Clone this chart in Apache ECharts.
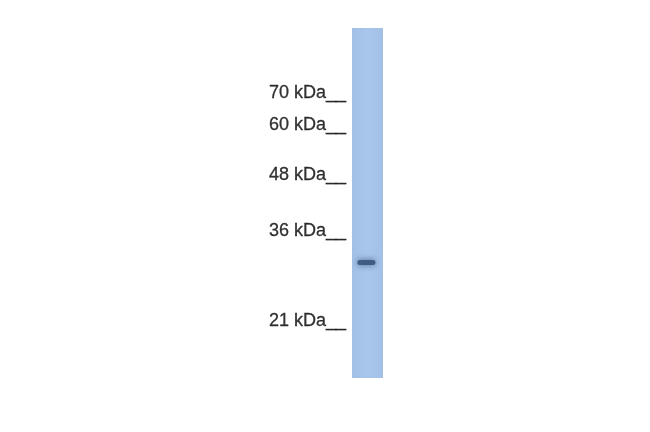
<!DOCTYPE html>
<html>
<head>
<meta charset="utf-8">
<script src="https://cdn.jsdelivr.net/npm/echarts@6/dist/echarts.min.js"></script>
<style>
  html, body { margin: 0; padding: 0; background: #fff; }
  #chart { width: 650px; height: 432px; }
</style>
</head>
<body>
<div id="chart"></div>
<script>
// 分子量标记（kDa）及其在泳道中的迁移距离（像素，从泳道顶部算起）
const markerLabels = ["70 kDa", "60 kDa", "48 kDa", "36 kDa", "21 kDa"];
const markerMigration = [72, 104, 154, 210, 300];
// 条带：迁移距离、左右位置（泳道宽度比例）
const bandMigration = [234.5];
const bandSpan = [[0.14, 0.79]];
const laneLength = 350;

const chart = echarts.init(document.getElementById("chart"), null, { renderer: "canvas" });

chart.setOption({
  animation: false,
  grid: { left: 352, right: 267, top: 28, height: laneLength },
  xAxis: { type: "value", min: 0, max: 1, show: false },
  yAxis: { type: "value", min: 0, max: laneLength, inverse: true, show: false },
  series: [
    {
      // 泳道背景
      type: "custom",
      data: [[0, 0, 1, laneLength]],
      renderItem: (params, api) => {
        const p0 = api.coord([api.value(0), api.value(1)]);
        const p1 = api.coord([api.value(2), api.value(3)]);
        return {
          type: "rect",
          shape: { x: p0[0], y: p0[1], width: p1[0] - p0[0], height: p1[1] - p0[1] },
          style: {
            fill: new echarts.graphic.LinearGradient(0, 0, 1, 0, [
              { offset: 0, color: "#a2bfe6" },
              { offset: 0.5, color: "#a8c5ec" },
              { offset: 1, color: "#a3c0e7" }
            ])
          }
        };
      }
    },
    {
      // 条带
      type: "custom",
      data: bandMigration.map((m, i) => [bandSpan[i][0], m, bandSpan[i][1]]),
      renderItem: (params, api) => {
        const p0 = api.coord([api.value(0), api.value(1)]);
        const p1 = api.coord([api.value(2), api.value(1)]);
        return {
          type: "rect",
          shape: { x: p0[0] + 1, y: p0[1] - 2.5, width: p1[0] - p0[0] - 2, height: 5, r: 2.5 },
          style: { fill: "#405c80", shadowBlur: 6, shadowColor: "rgba(55,80,115,0.85)" }
        };
      }
    },
    {
      // 分子量标记文字
      type: "scatter",
      symbolSize: 0,
      data: markerMigration.map((m, i) => ({ value: [0, m], name: markerLabels[i] })),
      label: {
        show: true,
        position: "left",
        distance: 6,
        offset: [0, -7],
        formatter: (p) => p.name + "__",
        fontFamily: "Liberation Sans, Arial, sans-serif",
        fontSize: 18,
        color: "#000",
        textBorderColor: "#000",
        textBorderWidth: 0.3
      }
    }
  ]
});
</script>
</body>
</html>
